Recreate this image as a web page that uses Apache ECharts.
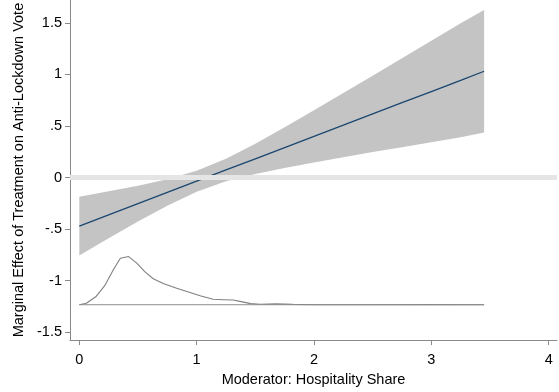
<!DOCTYPE html>
<html>
<head>
<meta charset="utf-8">
<script src="https://cdn.jsdelivr.net/npm/echarts@6/dist/echarts.min.js"></script>
<style>
  html, body { margin: 0; padding: 0; background: #fff; }
  #chart { width: 559px; height: 392px; }
</style>
</head>
<body>
<div id="chart"></div>
<script>
// Marginal effect of treatment across the hospitality share moderator
const effectX     = [0, 0.25, 0.5, 0.75, 1.0, 1.25, 1.5, 1.75, 2.0, 2.25, 2.5, 2.75, 3.0, 3.25, 3.45];
const effectMid   = [-0.470, -0.361, -0.253, -0.144, -0.035, 0.074, 0.182, 0.291, 0.400, 0.508, 0.617, 0.726, 0.834, 0.943, 1.031];
const effectLower = [-0.755, -0.589, -0.427, -0.272, -0.137, -0.036, 0.035, 0.094, 0.147, 0.197, 0.247, 0.295, 0.342, 0.390, 0.437];
const effectUpper = [-0.185, -0.133, -0.079, -0.016, 0.067, 0.183, 0.329, 0.488, 0.653, 0.819, 0.987, 1.157, 1.326, 1.496, 1.624];

// Distribution of the moderator, drawn on the lower part of the panel
const densityX = [0, 0.06, 0.14, 0.22, 0.29, 0.35, 0.42, 0.49, 0.56, 0.63, 0.72, 0.83, 0.93, 1.03, 1.14, 1.23, 1.31, 1.38, 1.46, 1.54, 1.68, 1.82, 2.0, 2.5, 3.0, 3.45];
const densityY = [-1.233, -1.219, -1.156, -1.042, -0.893, -0.782, -0.766, -0.829, -0.915, -0.981, -1.029, -1.073, -1.110, -1.146, -1.180, -1.184, -1.187, -1.203, -1.222, -1.228, -1.225, -1.230, -1.233, -1.233, -1.232, -1.233];
const densityBase = -1.233;

// Axis ticks
const xTicks = [0, 1, 2, 3, 4];
const yTicks = [-1.5, -1, -0.5, 0, 0.5, 1, 1.5];
const referenceY = 0;

const fontFamily = '"Liberation Sans", Arial, Helvetica, sans-serif';
const fontSize = 14.5;
const axisGrey = '#8a8a8a';

function fmtTick(v) {
  if (v === 0) return '0';
  return String(v).replace(/^0\./, '.').replace(/^-0\./, '-.');
}

const chart = echarts.init(document.getElementById('chart'), null, { renderer: 'canvas' });

chart.setOption({
  animation: false,
  backgroundColor: '#ffffff',
  grid: { left: 70, right: 2, top: 0, bottom: 45, containLabel: false },
  xAxis: {
    type: 'value',
    min: -0.0793,
    max: 4.071,
    name: 'Moderator: Hospitality Share',
    nameLocation: 'middle',
    nameGap: 25,
    nameTextStyle: { color: '#000', fontSize, fontFamily, verticalAlign: 'top' },
    axisLine: { show: true, onZero: false, lineStyle: { color: axisGrey, width: 1 } },
    axisTick: { show: true, length: 5, inside: false, customValues: xTicks, lineStyle: { color: axisGrey } },
    axisLabel: { show: true, margin: 12, color: '#000', fontSize, fontFamily, customValues: xTicks, formatter: fmtTick },
    splitLine: { show: false }
  },
  yAxis: {
    type: 'value',
    min: -1.576,
    max: 1.722,
    name: 'Marginal Effect of Treatment on Anti-Lockdown Vote',
    nameLocation: 'middle',
    nameRotate: 90,
    nameGap: 41,
    nameTextStyle: { color: '#000', fontSize, fontFamily },
    axisLine: { show: true, onZero: false, lineStyle: { color: axisGrey, width: 1 } },
    axisTick: { show: true, length: 5, inside: false, customValues: yTicks, lineStyle: { color: axisGrey } },
    axisLabel: { show: true, margin: 8, color: '#000', fontSize, fontFamily, customValues: yTicks, formatter: fmtTick },
    splitLine: { show: false }
  },
  series: [
    {
      // confidence band as a single polygon
      type: 'custom',
      z: 1,
      silent: true,
      data: effectX.map((x, i) => [x, effectLower[i], effectUpper[i]]),
      encode: { x: 0, y: [1, 2] },
      renderItem: function (params, api) {
        if (params.dataIndex !== 0) return null;
        const pts = [];
        for (let i = 0; i < effectX.length; i++) pts.push(api.coord([effectX[i], effectUpper[i]]));
        for (let i = effectX.length - 1; i >= 0; i--) pts.push(api.coord([effectX[i], effectLower[i]]));
        return { type: 'polygon', shape: { points: pts }, style: { fill: '#c4c4c4', stroke: null } };
      }
    },
    {
      // zero reference line
      type: 'line',
      z: 2,
      data: [],
      silent: true,
      markLine: {
        silent: true,
        symbol: ['none', 'none'],
        label: { show: false },
        lineStyle: { color: '#e5e5e5', width: 5, type: 'solid' },
        data: [{ yAxis: referenceY }]
      }
    },
    {
      type: 'line',
      z: 3,
      silent: true,
      showSymbol: false,
      symbol: 'none',
      data: effectX.map((x, i) => [x, effectMid[i]]),
      lineStyle: { color: '#1a476f', width: 1.3 }
    },
    {
      type: 'line',
      z: 3,
      silent: true,
      showSymbol: false,
      symbol: 'none',
      data: densityX.map((x, i) => [x, densityY[i]]),
      lineStyle: { color: '#808080', width: 1.1 }
    },
    {
      type: 'line',
      z: 3,
      silent: true,
      showSymbol: false,
      symbol: 'none',
      data: [[densityX[0], densityBase], [densityX[densityX.length - 1], densityBase]],
      lineStyle: { color: '#8c8c8c', width: 1 }
    }
  ]
});
</script>
</body>
</html>
